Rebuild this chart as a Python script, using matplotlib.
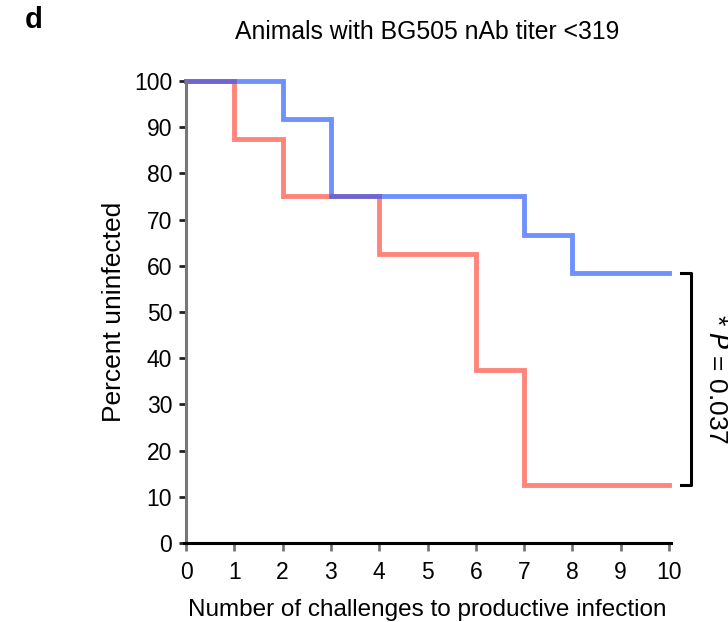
import matplotlib
matplotlib.use("Agg")
import matplotlib.pyplot as plt

plt.rcParams['font.family'] = ['Liberation Sans', 'DejaVu Sans']

# survival data (percent uninfected after each challenge)
challenges = [0, 1, 2, 3, 4, 5, 6, 7, 8, 9, 10]
blue_pct = [100, 100, 91.67, 75, 75, 75, 75, 66.67, 58.33, 58.33, 58.33]
red_pct = [100, 87.5, 75, 75, 62.5, 62.5, 37.5, 12.5, 12.5, 12.5, 12.5]
p_text = "* $P$ = 0.037"

fig = plt.figure(figsize=(7.28, 6.22), dpi=100)
ax = fig.add_axes([0.2555, 0.127, 0.6635, 0.743])

ax.step(challenges, red_pct, where='post', color='#ff4433', lw=3.5, alpha=0.65,
        solid_joinstyle='miter', clip_on=False)
ax.step(challenges, blue_pct, where='post', color='#2255ff', lw=3.5, alpha=0.65,
        solid_joinstyle='miter', clip_on=False)

ax.set_xlim(0, 10)
ax.set_ylim(0, 100)
ax.set_xticks(range(0, 11))
ax.set_yticks(range(0, 101, 10))
ax.tick_params(axis='x', labelsize=16.5, direction='out', length=6, width=2,
               color='#777777', pad=7)
ax.tick_params(axis='y', labelsize=16.5, direction='out', length=5, width=2,
               color='#222222', pad=5)
ax.spines['top'].set_visible(False)
ax.spines['right'].set_visible(False)
ax.spines['left'].set_color('#777777')
ax.spines['left'].set_linewidth(2.2)
ax.spines['bottom'].set_linewidth(2.2)
ax.spines['bottom'].set_bounds(-0.05, 10.05)

ax.set_xlabel("Number of challenges to productive infection", fontsize=17.5, labelpad=11)
ax.set_ylabel("Percent uninfected", fontsize=19, labelpad=6)
fig.text(0.5865, 1 - 32 / 622, "Animals with BG505 nAb titer <319", fontsize=17.8,
         ha='center', va='center')

# significance bracket
bx = 10.45
ax.plot([bx - 0.2, bx, bx, bx - 0.2], [blue_pct[-1], blue_pct[-1], red_pct[-1], red_pct[-1]],
        color='black', lw=2.2, clip_on=False)
ax.text(bx + 0.52, (blue_pct[-1] + red_pct[-1]) / 2, p_text, rotation=270,
        ha='center', va='center', fontsize=19)

fig.text(0.034, 1 - 20 / 622, "d", fontsize=21, fontweight='bold', ha='left', va='center')

fig.savefig("out.png", dpi=100)
